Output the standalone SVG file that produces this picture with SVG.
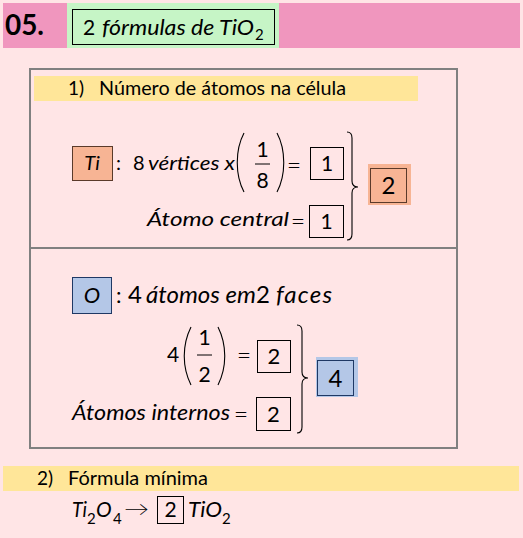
<svg xmlns="http://www.w3.org/2000/svg" width="523" height="538" viewBox="0 0 523 538">
<style>
text{font-family:Lato,"Open Sans","Liberation Sans",sans-serif;fill:#000}
.it{font-style:italic}
.b{font-weight:bold}
.box{fill:none;stroke:#000;stroke-width:1}
.delim{fill:none;stroke:#000;stroke-width:1.1}
.frame{fill:none;stroke:#808080;stroke-width:2}
.mid{text-anchor:middle}
.eq{font-size:25px;font-weight:300;text-anchor:middle}
</style>
<rect x="0" y="0" width="523" height="538" fill="#FFE5E6"/>

<g id="header">
<rect x="3" y="3" width="517" height="45" fill="#F096BE"/>
<rect x="67" y="3" width="212" height="45" fill="#C6F5C6"/>
<rect x="72.5" y="9.5" width="202" height="35" fill="#C6F5C6" stroke="#000" stroke-width="1"/>
<text class="b" x="5" y="35" font-size="28" textLength="39" lengthAdjust="spacingAndGlyphs">05.</text>
<text x="83" y="35" font-size="21">2</text>
<text class="it" x="102" y="35" font-size="21" textLength="152" lengthAdjust="spacingAndGlyphs">fórmulas de TiO</text>
<text x="255" y="40" font-size="15">2</text>
</g>

<g id="frame">
<rect class="frame" x="30" y="69" width="427" height="379"/>
<line x1="30" y1="248" x2="457" y2="248" stroke="#808080" stroke-width="2"/>
</g>

<g id="section1-title">
<rect x="34" y="76" width="384" height="25" fill="#FFE699"/>
<text x="68" y="95" font-size="19">1)</text>
<text x="99" y="95" font-size="19" textLength="247" lengthAdjust="spacingAndGlyphs">Número de átomos na célula</text>
</g>

<g id="ti-count">
<rect x="72.5" y="146.5" width="40" height="34" fill="#F7B494" stroke="#5A3A2A" stroke-width="1"/>
<text class="it mid" x="92" y="170" font-size="20">Ti</text>
<text x="116" y="170" font-size="20">:</text>
<text x="133" y="170" font-size="20">8</text>
<text class="it" x="148" y="170" font-size="20" textLength="87" lengthAdjust="spacingAndGlyphs">vértices x</text>
<path class="delim" d="M244 133 C235 150 235 175 244 192"/>
<text class="mid" x="262.5" y="157" font-size="21">1</text>
<line x1="255" y1="164" x2="270" y2="164" stroke="#000" stroke-width="1"/>
<text class="mid" x="262.5" y="188" font-size="21">8</text>
<path class="delim" d="M277 133 C286 150 286 175 277 192"/>
<text class="eq" x="294" y="174">=</text>
<rect class="box" x="310.5" y="147.5" width="33" height="32"/>
<text class="mid" x="327" y="171" font-size="21">1</text>

<text class="it" x="147" y="226" font-size="20" textLength="142" lengthAdjust="spacingAndGlyphs">Átomo central</text>
<text class="eq" x="298" y="230">=</text>
<rect class="box" x="309.5" y="205.5" width="34" height="32"/>
<text class="mid" x="326.5" y="229" font-size="21">1</text>

<path class="delim" d="M347 132 Q352 132 352 138 L352 181 Q352 187 358 187 Q352 187 352 193 L352 234 Q352 240 347 240"/>
<rect x="368" y="164" width="43" height="41" fill="#F7B494"/>
<rect x="370.5" y="168.5" width="36" height="34" fill="none" stroke="#5A3A2A" stroke-width="1"/>
<text class="mid" x="388.5" y="194" font-size="24">2</text>
</g>

<g id="o-count">
<rect x="72.5" y="277.5" width="39" height="36" fill="#B4C7E7" stroke="#1F3864" stroke-width="1"/>
<text class="it mid" x="92" y="303" font-size="22">O</text>
<text x="116" y="303" font-size="22">:</text>
<text x="128" y="303" font-size="24">4</text>
<text x="146" y="303" font-size="24"><tspan class="it">átomos em</tspan>2</text>
<text class="it" x="276" y="303" font-size="24" textLength="56" lengthAdjust="spacing">faces</text>

<text x="167" y="362" font-size="21">4</text>
<path class="delim" d="M191 327 C182 345 182 367 191 385"/>
<text class="mid" x="204.5" y="345" font-size="21">1</text>
<line x1="197" y1="355" x2="212" y2="355" stroke="#000" stroke-width="1"/>
<text class="mid" x="204.5" y="382" font-size="21">2</text>
<path class="delim" d="M218 327 C227 345 227 367 218 385"/>
<text class="eq" x="244" y="364">=</text>
<rect class="box" x="257.5" y="340.5" width="33" height="32"/>
<text class="mid" x="274" y="364" font-size="22">2</text>

<text class="it" x="72" y="420" font-size="22" textLength="158" lengthAdjust="spacingAndGlyphs">Átomos internos</text>
<text class="eq" x="241" y="423">=</text>
<rect class="box" x="256.5" y="397.5" width="34" height="33"/>
<text class="mid" x="273.5" y="422" font-size="22">2</text>

<path class="delim" d="M297 325 Q302 325 302 331 L302 372 Q302 378 308 378 Q302 378 302 384 L302 427 Q302 433 297 433"/>
<rect x="316" y="357" width="42" height="40" fill="#B4C7E7"/>
<rect x="317.5" y="360.5" width="36" height="35" fill="none" stroke="#1F3864" stroke-width="1"/>
<text class="mid" x="335.5" y="387" font-size="24">4</text>
</g>

<g id="section2">
<rect x="3" y="466" width="516" height="25" fill="#FFE699"/>
<text x="37" y="485" font-size="19">2)</text>
<text x="68" y="485" font-size="19" textLength="140" lengthAdjust="spacingAndGlyphs">Fórmula mínima</text>
<text class="it" x="72" y="517" font-size="21" textLength="15" lengthAdjust="spacingAndGlyphs">Ti</text>
<text x="87" y="524" font-size="15">2</text>
<text class="it" x="96" y="517" font-size="21">O</text>
<text x="113" y="524" font-size="15">4</text>
<text x="124" y="516" font-size="20" font-weight="300" textLength="25" lengthAdjust="spacingAndGlyphs">→</text>
<rect class="box" x="157.5" y="496.5" width="26" height="27"/>
<text class="mid" x="170.5" y="517" font-size="21">2</text>
<text class="it" x="188" y="517" font-size="21" textLength="34" lengthAdjust="spacingAndGlyphs">TiO</text>
<text x="222" y="524" font-size="15">2</text>
</g>
</svg>
